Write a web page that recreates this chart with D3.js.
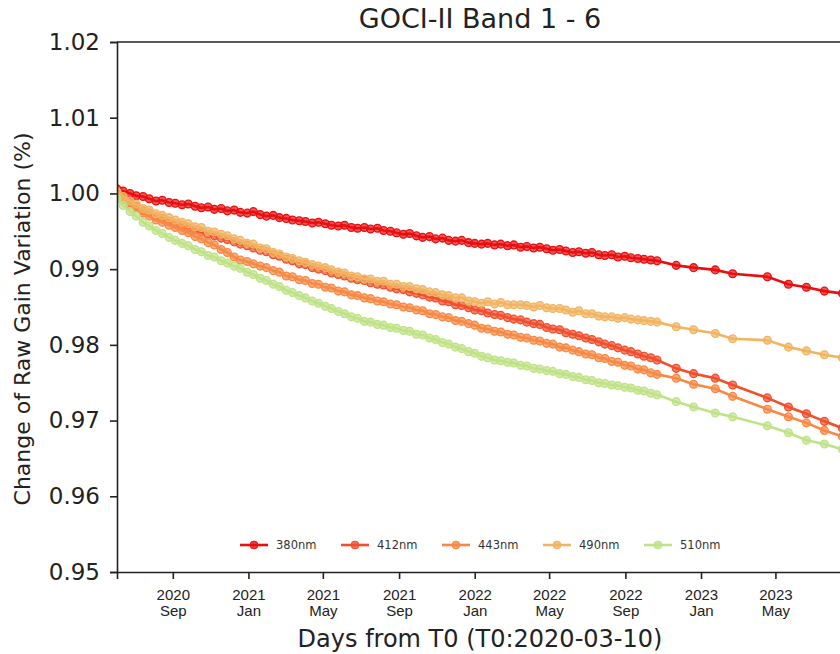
<!DOCTYPE html>
<html>
<head>
<meta charset="utf-8">
<script src="https://cdn.jsdelivr.net/npm/d3@7"></script>
<style>
body{margin:0;background:#fff;}
svg{font-family:"DejaVu Sans",sans-serif;}
</style>
</head>
<body>
<div id="chart"></div>
<script>
// days from T0 (2020-03-10)
var days = [85,95,106,116,127,137,148,158,169,179,190,200,211,221,232,242,253,263,274,284,
  295,305,316,326,337,347,358,368,379,389,400,410,421,431,442,452,463,473,484,494,
  505,515,526,536,547,557,568,578,589,599,610,620,631,641,652,662,673,683,694,704,
  715,725,736,746,757,767,778,788,799,809,820,830,841,851,862,872,883,893,904,914,
  925,935,946,956,987,1015,1050,1078,1134,1168,1197,1226,1255];

var b380 = [1.0006,1.0003,1.0000,0.9997,0.9996,0.9993,0.9990,0.9991,0.9988,0.9987,0.9985,0.9986,0.9983,0.9981,0.9982,0.9979,0.9980,0.9977,0.9978,0.9975,
  0.9974,0.9976,0.9972,0.9970,0.9971,0.9968,0.9967,0.9965,0.9964,0.9963,0.9961,0.9962,0.9960,0.9958,0.9957,0.9958,0.9955,0.9954,0.9955,0.9953,
  0.9954,0.9951,0.9950,0.9948,0.9946,0.9947,0.9944,0.9942,0.9943,0.9940,0.9941,0.9938,0.9937,0.9938,0.9935,0.9934,0.9933,0.9934,0.9932,0.9933,
  0.9931,0.9932,0.9929,0.9930,0.9928,0.9929,0.9927,0.9925,0.9926,0.9924,0.9922,0.9923,0.9921,0.9922,0.9919,0.9918,0.9919,0.9916,0.9917,0.9915,
  0.9914,0.9913,0.9912,0.9911,0.9905,0.9902,0.9899,0.9894,0.9890,0.9880,0.9876,0.9871,0.9868];

var b412 = [1.0003,0.9995,0.9988,0.9983,0.9977,0.9974,0.9969,0.9967,0.9963,0.9960,0.9958,0.9954,0.9952,0.9949,0.9946,0.9944,0.9941,0.9939,0.9936,0.9933,
  0.9931,0.9928,0.9925,0.9923,0.9919,0.9917,0.9913,0.9911,0.9907,0.9906,0.9902,0.9900,0.9898,0.9895,0.9893,0.9891,0.9888,0.9886,0.9885,0.9882,
  0.9880,0.9879,0.9876,0.9874,0.9873,0.9870,0.9868,0.9866,0.9863,0.9862,0.9858,0.9857,0.9853,0.9852,0.9849,0.9846,0.9845,0.9842,0.9840,0.9839,
  0.9836,0.9834,0.9833,0.9830,0.9828,0.9827,0.9823,0.9821,0.9820,0.9816,0.9814,0.9812,0.9809,0.9807,0.9804,0.9801,0.9799,0.9796,0.9793,0.9791,
  0.9788,0.9785,0.9783,0.9780,0.9769,0.9762,0.9756,0.9747,0.9730,0.9718,0.9709,0.9699,0.9690];

var b443 = [1.0000,0.9992,0.9985,0.9980,0.9974,0.9970,0.9965,0.9962,0.9958,0.9955,0.9951,0.9948,0.9943,0.9940,0.9935,0.9932,0.9926,0.9922,0.9916,0.9912,
  0.9910,0.9907,0.9904,0.9902,0.9898,0.9896,0.9891,0.9890,0.9886,0.9885,0.9881,0.9880,0.9876,0.9875,0.9871,0.9870,0.9866,0.9865,0.9862,0.9861,
  0.9858,0.9857,0.9854,0.9853,0.9850,0.9849,0.9846,0.9845,0.9841,0.9840,0.9837,0.9836,0.9832,0.9831,0.9828,0.9826,0.9822,0.9821,0.9818,0.9817,
  0.9814,0.9813,0.9810,0.9809,0.9806,0.9805,0.9802,0.9801,0.9797,0.9796,0.9793,0.9791,0.9788,0.9787,0.9783,0.9782,0.9778,0.9777,0.9773,0.9772,
  0.9768,0.9767,0.9763,0.9761,0.9756,0.9748,0.9742,0.9732,0.9715,0.9705,0.9697,0.9687,0.9679];

var b490 = [1.0002,0.9996,0.9990,0.9986,0.9980,0.9978,0.9973,0.9971,0.9968,0.9965,0.9962,0.9960,0.9956,0.9955,0.9950,0.9949,0.9946,0.9944,0.9940,0.9938,
  0.9934,0.9933,0.9928,0.9927,0.9922,0.9920,0.9916,0.9914,0.9911,0.9909,0.9906,0.9904,0.9902,0.9899,0.9896,0.9895,0.9891,0.9890,0.9887,0.9887,
  0.9884,0.9884,0.9880,0.9880,0.9877,0.9877,0.9874,0.9873,0.9870,0.9869,0.9866,0.9865,0.9862,0.9862,0.9858,0.9857,0.9855,0.9857,0.9854,0.9856,
  0.9853,0.9853,0.9853,0.9852,0.9850,0.9852,0.9849,0.9848,0.9848,0.9846,0.9843,0.9845,0.9841,0.9841,0.9838,0.9837,0.9837,0.9835,0.9836,0.9834,
  0.9833,0.9832,0.9831,0.9830,0.9824,0.9820,0.9815,0.9808,0.9806,0.9797,0.9792,0.9787,0.9783];

var b510 = [0.9993,0.9984,0.9976,0.9970,0.9962,0.9957,0.9951,0.9947,0.9942,0.9938,0.9934,0.9931,0.9926,0.9923,0.9918,0.9916,0.9911,0.9908,0.9904,0.9901,
  0.9896,0.9893,0.9888,0.9885,0.9880,0.9877,0.9872,0.9869,0.9865,0.9862,0.9858,0.9855,0.9851,0.9848,0.9844,0.9841,0.9837,0.9835,0.9831,0.9830,
  0.9827,0.9826,0.9823,0.9822,0.9819,0.9818,0.9814,0.9813,0.9809,0.9807,0.9803,0.9801,0.9797,0.9795,0.9791,0.9789,0.9785,0.9783,0.9780,0.9779,
  0.9777,0.9776,0.9773,0.9772,0.9769,0.9768,0.9766,0.9765,0.9762,0.9761,0.9758,0.9757,0.9754,0.9753,0.9750,0.9749,0.9747,0.9746,0.9744,0.9743,
  0.9740,0.9739,0.9736,0.9734,0.9725,0.9718,0.9710,0.9705,0.9693,0.9684,0.9674,0.9669,0.9662];

var bandNames = ["380nm","412nm","443nm","490nm","510nm"];
var bandColors = ["#ea0f0f","#f24f2c","#f88945","#f1b462","#bfe287"];
var bandValues = [b380,b412,b443,b490,b510];
var yTicks = [0.95,0.96,0.97,0.98,0.99,1.00,1.01,1.02];

var T0 = new Date(2020,2,10);
var W = 840, H = 654;
var margin = {top:42, left:117, right:843, bottom:572};

var svg = d3.select("#chart").append("svg")
  .attr("width", W).attr("height", H);

var x = d3.scaleTime()
  .domain([d3.timeDay.offset(T0,85), d3.timeDay.offset(T0,1256)])
  .range([margin.left, margin.right]);
var y = d3.scaleLinear()
  .domain([0.95,1.02])
  .range([margin.bottom, margin.top]);

svg.append("clipPath").attr("id","plotclip")
  .append("rect")
  .attr("x", margin.left).attr("y", margin.top)
  .attr("width", margin.right-margin.left).attr("height", margin.bottom-margin.top);

// series
var line = d3.line()
  .x(function(d){ return x(d3.timeDay.offset(T0,d[0])); })
  .y(function(d){ return y(d[1]); });

var plot = svg.append("g").attr("clip-path","url(#plotclip)");
bandValues.forEach(function(vals,i){
  var pts = days.map(function(d,j){ return [d, vals[j]]; });
  var g = plot.append("g");
  g.append("path")
    .datum(pts)
    .attr("d", line)
    .attr("fill","none")
    .attr("stroke", bandColors[i])
    .attr("stroke-width", 2.6);
  g.selectAll("circle")
    .data(pts)
    .enter()
    .append("circle")
    .attr("cx", function(d){ return x(d3.timeDay.offset(T0,d[0])); })
    .attr("cy", function(d){ return y(d[1]); })
    .attr("r", 3.9)
    .attr("fill", bandColors[i])
    .attr("fill-opacity", 0.7)
    .attr("stroke", bandColors[i])
    .attr("stroke-width", 1.3);
});

// axes
var fmtYear = d3.timeFormat("%Y"), fmtMon = d3.timeFormat("%b");
var xAxis = svg.append("g")
  .attr("transform","translate(0," + margin.bottom + ")")
  .call(d3.axisBottom(x).ticks(d3.timeMonth.every(4)).tickSize(7).tickFormat(""));
xAxis.select(".domain").attr("stroke","#222").attr("stroke-width",1.6);
xAxis.selectAll(".tick line").attr("stroke","#222").attr("stroke-width",1.6);
xAxis.selectAll(".tick").each(function(d){
  var t = d3.select(this).append("text")
    .attr("fill","#222")
    .attr("font-size",15)
    .attr("text-anchor","middle");
  t.append("tspan").attr("x",0).attr("y",28).text(fmtYear(d));
  t.append("tspan").attr("x",0).attr("y",44).text(fmtMon(d));
});

var yAxis = svg.append("g")
  .attr("transform","translate(" + margin.left + ",0)")
  .call(d3.axisLeft(y).tickValues(yTicks).tickFormat(d3.format(".2f")).tickSize(7).tickPadding(10));
yAxis.select(".domain").attr("stroke","#222").attr("stroke-width",1.6);
yAxis.selectAll(".tick line").attr("stroke","#222").attr("stroke-width",1.6);
yAxis.selectAll(".tick text").attr("fill","#222").attr("font-size",23).attr("font-family","DejaVu Sans");

// top spine
svg.append("line")
  .attr("x1", margin.left).attr("x2", margin.right)
  .attr("y1", margin.top).attr("y2", margin.top)
  .attr("stroke","#222").attr("stroke-width",1.6);

// titles
svg.append("text")
  .attr("x", (margin.left+margin.right)/2).attr("y", 28)
  .attr("text-anchor","middle").attr("font-size",27).attr("fill","#222")
  .text("GOCI-II Band 1 - 6");
svg.append("text")
  .attr("x", (margin.left+margin.right)/2).attr("y", 647)
  .attr("text-anchor","middle").attr("font-size",24).attr("fill","#222")
  .text("Days from T0 (T0:2020-03-10)");
svg.append("text")
  .attr("transform","translate(30," + ((margin.top+margin.bottom)/2 + 12) + ") rotate(-90)")
  .attr("text-anchor","middle").attr("font-size",22).attr("fill","#222")
  .text("Change of Raw Gain Variation (%)");

// legend
var legend = svg.append("g").attr("transform","translate(240,545)");
bandNames.forEach(function(name,i){
  var lg = legend.append("g").attr("transform","translate(" + (i*101) + ",0)");
  lg.append("line").attr("x1",0).attr("x2",28).attr("y1",0).attr("y2",0)
    .attr("stroke",bandColors[i]).attr("stroke-width",2.6);
  lg.append("circle").attr("cx",14).attr("cy",0).attr("r",3.9)
    .attr("fill",bandColors[i]).attr("fill-opacity",0.8).attr("stroke",bandColors[i]);
  lg.append("text").attr("x",36).attr("y",4).attr("font-size",11.5).attr("fill","#333")
    .text(name);
});
</script>
</body>
</html>
